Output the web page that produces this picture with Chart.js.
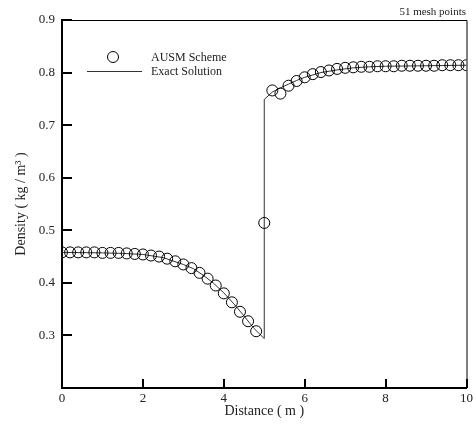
<!DOCTYPE html>
<html>
<head>
<meta charset="utf-8">
<script src="https://cdn.jsdelivr.net/npm/chart.js@4"></script>
<style>
  html, body { margin:0; padding:0; background:#fff; }
  #wrap { width:476px; height:425px; }
</style>
</head>
<body>
<div id="wrap"><canvas id="chart" width="476" height="425"></canvas></div>
<script>
// AUSM scheme, 51 mesh points
const meshX = [0,0.2,0.4,0.6,0.8,1,1.2,1.4,1.6,1.8,2,2.2,2.4,2.6,2.8,3,3.2,3.4,3.6,3.8,4,4.2,4.4,4.6,4.8,
               5,5.2,5.4,5.6,5.8,6,6.2,6.4,6.6,6.8,7,7.2,7.4,7.6,7.8,8,8.2,8.4,8.6,8.8,9,9.2,9.4,9.6,9.8,10];
const ausmRho = [0.458,0.458,0.458,0.458,0.458,0.457,0.457,0.457,0.456,0.455,0.454,0.452,0.450,0.446,0.441,
                 0.435,0.428,0.419,0.408,0.395,0.380,0.363,0.345,0.327,0.308,
                 0.514,0.766,0.760,0.775,0.784,0.791,0.797,0.801,0.804,0.807,0.809,0.810,0.811,0.811,0.812,
                 0.812,0.812,0.813,0.813,0.813,0.813,0.813,0.814,0.814,0.814,0.814];

// exact solution (shock at x = 5)
const exactX   = [0,1,1.5,2,2.5,3,3.25,3.5,3.75,4,4.25,4.5,4.75,5,
                  5,5.2,5.4,5.6,5.8,6,6.4,6.8,7.2,7.6,8,9,10];
const exactRho = [0.458,0.457,0.456,0.454,0.448,0.435,0.427,0.414,0.399,0.381,0.360,0.337,0.313,0.294,
                  0.749,0.763,0.771,0.778,0.785,0.791,0.800,0.805,0.809,0.811,0.812,0.813,0.814];

const xTicks = [0,2,4,6,8,10];
const yTicks = [0.3,0.4,0.5,0.6,0.7,0.8,0.9];

const serif = "'Liberation Serif', 'Times New Roman', serif";

function pts(xs, ys){ return xs.map((x,i)=>({x:x, y:ys[i]})); }

// inward tick marks, thin top/right frame, legend and note
const framePlugin = {
  id: "frame",
  afterDraw(chart){
    const {ctx, chartArea:a, scales:{x, y}} = chart;
    ctx.save();
    ctx.strokeStyle = "#000";
    ctx.lineWidth = 1;
    ctx.beginPath();
    ctx.moveTo(a.left, a.top+0.5); ctx.lineTo(a.right+0.5, a.top+0.5); ctx.lineTo(a.right+0.5, a.bottom);
    ctx.stroke();

    ctx.lineWidth = 2;
    ctx.beginPath();
    yTicks.forEach(v=>{ const py = Math.round(y.getPixelForValue(v)); ctx.moveTo(a.left, py); ctx.lineTo(a.left+10, py); });
    xTicks.forEach(v=>{ const px = Math.round(x.getPixelForValue(v)); ctx.moveTo(px, a.bottom); ctx.lineTo(px, a.bottom-9); });
    ctx.stroke();

    // legend
    ctx.lineWidth = 1;
    ctx.strokeStyle = "#000";
    ctx.beginPath(); ctx.arc(113, 57, 5.5, 0, Math.PI*2); ctx.stroke();
    ctx.strokeStyle = "#333";
    ctx.beginPath(); ctx.moveTo(87, 71.5); ctx.lineTo(142, 71.5); ctx.stroke();
    ctx.fillStyle = "#222";
    ctx.font = "12px " + serif;
    ctx.textBaseline = "middle";
    ctx.textAlign = "left";
    ctx.fillText("AUSM Scheme", 151, 58);
    ctx.fillText("Exact Solution", 151, 72);

    ctx.font = "11px " + serif;
    ctx.textAlign = "right";
    ctx.fillText("51 mesh points", 466, 12);
    ctx.restore();
  }
};

new Chart(document.getElementById("chart"), {
  type: "scatter",
  data: {
    datasets: [
      { label:"AUSM Scheme", data: pts(meshX, ausmRho), pointStyle:"circle", pointRadius:5.5,
        pointBorderWidth:1, borderColor:"#000", backgroundColor:"rgba(0,0,0,0)", showLine:false, order:1 },
      { label:"Exact Solution", data: pts(exactX, exactRho), showLine:true, pointRadius:0,
        borderColor:"#333", borderWidth:1, tension:0, order:2 },
    ]
  },
  options: {
    responsive:false, animation:false, events:[],
    layout: { padding: { top:20, right:8, left:0, bottom:0 } },
    plugins: { legend:{ display:false }, tooltip:{ enabled:false } },
    scales: {
      x: {
        type:"linear", min:0, max:10,
        afterFit: s => { s.height = 37; },
        afterBuildTicks: s => { s.ticks = xTicks.map(v=>({value:v})); },
        grid:{ display:false, drawTicks:false },
        border:{ display:true, color:"#000", width:2 },
        ticks:{ color:"#222", padding:3, maxRotation:0, font:{ family:serif, size:13 } },
        title:{ display:true, text:"Distance ( m )", color:"#222", padding:{top:6,bottom:5}, font:{ family:serif, size:14 } }
      },
      y: {
        type:"linear", min:0.2, max:0.9,
        afterFit: s => { s.width = 62; },
        afterBuildTicks: s => { s.ticks = yTicks.map(v=>({value:v})); },
        grid:{ display:false, drawTicks:false },
        border:{ display:true, color:"#000", width:2 },
        ticks:{ color:"#222", padding:7, font:{ family:serif, size:13 },
          callback: v => Number(v).toFixed(1) },
        title:{ display:true, text:"Density ( kg / m³ )", color:"#222", padding:{top:13,bottom:4}, font:{ family:serif, size:14 } }
      }
    }
  },
  plugins: [framePlugin]
});
</script>
</body>
</html>
